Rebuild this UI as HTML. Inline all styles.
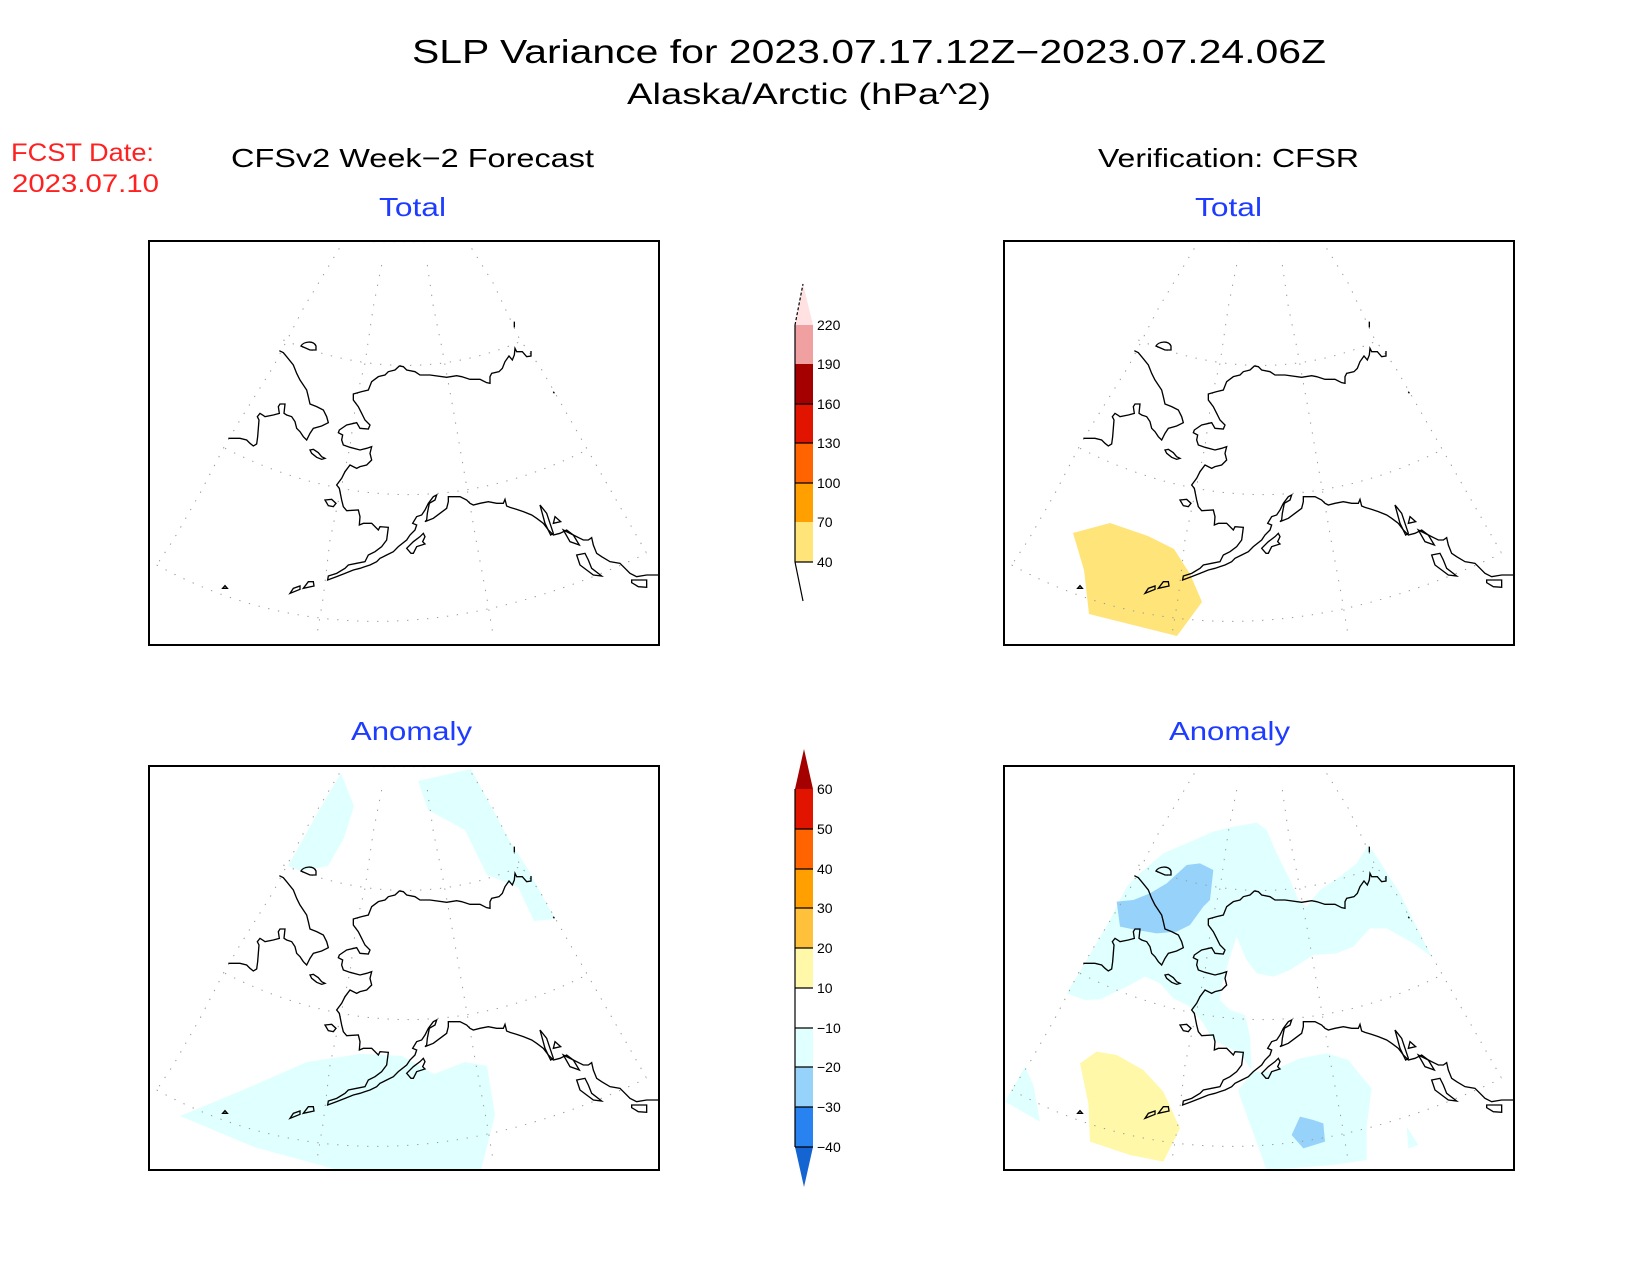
<!DOCTYPE html>
<html><head><meta charset="utf-8"><style>html,body{margin:0;padding:0;background:#fff}svg{display:block}</style></head><body>
<svg xmlns="http://www.w3.org/2000/svg" xmlns:xlink="http://www.w3.org/1999/xlink" width="1650" height="1275" viewBox="0 0 1650 1275" font-family="Liberation Sans, sans-serif" font-weight="300">
<defs>
<clipPath id="cp"><rect x="148" y="241" width="511" height="404"/></clipPath>
<g id="grat" fill="none" stroke="#999" stroke-width="3" stroke-dasharray="4,26">
 <path d="M50,975 Q700,1330 1520,940"/>
 <path d="M255,625 Q800,900 1340,630"/>
 <path d="M430,300 Q800,450 1140,305"/>
 <path d="M598,25 L490,205 400,380 300,540 250,625 180,760 100,900 50,975"/>
 <path d="M725,75 L700,200 675,370 650,470 630,620 600,760 570,900 550,1070 530,1190"/>
 <path d="M862,75 L880,200 905,320 940,510 975,710 1010,910 1040,1070 1060,1190"/>
 <path d="M995,25 L1060,130 1140,300 1200,380 1280,520 1360,660 1440,800 1520,940"/>
 <path d="M700,5 L870,5"/>
</g>
<g id="coast" fill="none" stroke="#000" stroke-width="4">
 <path d="M1173,333 L1173,348 1160,350 1147,335 1130,335 1125,325 1123,345 1117,360 1107,348 1095,365 1087,385 1077,395 1055,400 1050,410 1050,430 1040,428 1020,418 990,418 965,410 950,407 920,412 870,405 840,405 825,395 800,390 790,380 778,378 765,390 745,395 735,405 715,410 695,425 685,450 665,455 640,462 640,480 655,500 665,520 675,540 690,555 685,567 660,565 650,548 620,555 598,570 595,578 608,585 605,600 610,615 630,622 660,630 680,625 695,620 690,640 695,660 680,675 660,680 650,685 630,675 615,695 605,715 590,735 598,745 605,780 610,800 620,812 655,810 660,830 658,855 670,850 695,850 715,870 720,860 745,862 740,900 725,920 705,935 685,945 675,965 650,970 625,975 615,985 590,1000 565,1008 563,1020 590,1010 615,1000 640,990 660,985 675,980 690,975 710,965 720,955 740,945 760,935 775,920 800,900 810,885 825,870 830,855 818,850 830,830 845,825 855,810 865,790 880,770 890,765 885,780 868,790 862,820 860,840 855,845 880,835 900,820 920,805 925,785 925,770 945,770 960,770 980,780 990,790 1000,795 1020,790 1045,785 1070,790 1090,790 1095,778 1100,798 1110,802 1130,808 1150,815 1175,825 1190,835 1210,850 1225,870 1240,885 1260,880 1280,870 1300,885 1320,895 1330,900 1345,900 1355,893 1360,915 1370,940 1385,950 1410,965 1440,970 1455,985 1470,1000 1490,1010 1520,1005 1557,1005"/>
 <path d="M418,332 L430,338 440,350 460,375 470,400 480,420 490,435 500,450 505,470 510,492 530,500 550,510 560,530 565,548 545,558 520,565 510,580 500,600 490,590 480,575 470,565 465,545 455,530 440,525 432,520 435,492 420,492 415,500 418,520 400,525 375,530 368,525 360,520 352,530 357,540 355,565 353,590 350,612 340,618 330,610 320,600 300,595 265,595"/>
 <path d="M510,630 L520,628 535,638 545,650 555,655 545,658 530,652 515,640 Z"/>
 <path d="M483,318 C490,305 520,300 528,318 L528,330 510,330 Z"/>
 <path d="M555,780 L575,778 588,790 580,800 565,797 Z"/>
 <path d="M800,925 L820,905 840,890 850,880 855,890 848,905 855,912 830,920 820,940 813,940 Z"/>
 <path d="M450,1060 L460,1045 480,1038 480,1048 Z M490,1045 L505,1025 520,1025 522,1038 Z M248,1045 L255,1037 262,1045 Z"/>
 <path d="M1310,945 L1335,940 1345,960 1355,985 1385,1008 1360,1005 1340,990 1320,975 Z"/>
 <path d="M1475,1020 L1520,1020 1520,1042 1495,1040 1475,1028 Z"/>
 <path d="M1200,795 L1220,820 1240,880 1232,885 1215,850 Z M1245,830 L1262,845 1240,850 Z M1270,870 L1300,885 1318,915 1290,905 Z"/>
 <path d="M1123,245 L1123,262 M1240,455 L1243,460"/>
</g>
</defs>

<text x="412" y="63" font-size="33" textLength="914" lengthAdjust="spacingAndGlyphs">SLP Variance for 2023.07.17.12Z−2023.07.24.06Z</text>
<text x="627" y="104" font-size="30" textLength="364" lengthAdjust="spacingAndGlyphs">Alaska/Arctic (hPa^2)</text>
<text x="11" y="161" font-size="25" fill="#ff2020" textLength="143" lengthAdjust="spacingAndGlyphs">FCST Date:</text>
<text x="12" y="192" font-size="25" fill="#ff2020" textLength="147" lengthAdjust="spacingAndGlyphs">2023.07.10</text>
<text x="231" y="167" font-size="26" textLength="363" lengthAdjust="spacingAndGlyphs">CFSv2 Week−2 Forecast</text>
<text x="1098" y="167" font-size="26" textLength="261" lengthAdjust="spacingAndGlyphs">Verification: CFSR</text>
<g fill="#1e3cff" font-size="26">
<text x="379" y="216" textLength="67" lengthAdjust="spacingAndGlyphs">Total</text>
<text x="1195" y="216" textLength="67" lengthAdjust="spacingAndGlyphs">Total</text>
<text x="351" y="740" textLength="121" lengthAdjust="spacingAndGlyphs">Anomaly</text>
<text x="1169" y="740" textLength="121" lengthAdjust="spacingAndGlyphs">Anomaly</text>
</g>

<g transform="translate(140,240) scale(0.33333)"><use xlink:href="#grat"/><use xlink:href="#coast"/></g>
<rect x="149" y="241" width="510" height="404" fill="none" stroke="#000" stroke-width="2"/>

<g transform="translate(855,0)"><g clip-path="url(#cp)">
<polygon fill="#ffe47a" points="218,533 255,523 293,536 319,549 335,574 347,602 322,636 234,614 229,570"/>
</g></g>
<g transform="translate(995,240) scale(0.33333)"><use xlink:href="#grat"/><use xlink:href="#coast"/></g>
<rect x="1004" y="241" width="510" height="404" fill="none" stroke="#000" stroke-width="2"/>

<g transform="translate(0,525)"><g clip-path="url(#cp)">
<g fill="#e0ffff">
<polygon points="341,248 354,281 344,313 328,341 301,346 288,341 317,289"/>
<polygon points="418,256 471,244 508,313 529,346 555,394 534,396 518,362 487,350 465,305 428,285"/>
<polygon points="180,591 243,565 307,537 360,529 402,531 434,549 465,537 487,541 495,590 481,645 338,645 254,622"/>
</g></g></g>
<g transform="translate(140,765) scale(0.33333)"><use xlink:href="#grat"/><use xlink:href="#coast"/></g>
<rect x="149" y="766" width="510" height="404" fill="none" stroke="#000" stroke-width="2"/>

<clipPath id="cp2"><rect x="1004" y="766" width="510" height="404"/></clipPath>
<g clip-path="url(#cp2)"><g transform="translate(1000,760) scale(0.33333)">
<path fill="#e0ffff" d="M200,700 L260,600 330,480 380,380 420,340 490,280 560,250 640,215 700,200 770,188 800,210 830,280 870,360 895,420 920,440 960,390 1020,350 1070,310 1105,255 1130,290 1200,400 1295,590 1240,550 1160,505 1110,505 1060,560 1010,580 940,585 870,630 820,650 770,640 740,600 710,530 690,590 665,680 660,720 690,750 735,765 750,830 755,930 720,880 680,860 640,840 610,790 570,740 520,715 480,670 435,650 380,680 300,718 255,720 Z"/>
<path fill="#e0ffff" d="M715,990 L760,935 810,935 900,895 980,880 1045,900 1085,950 1115,985 1100,1100 1100,1200 1000,1215 800,1230 760,1120 720,1010 Z"/>
<path fill="#e0ffff" d="M15,1025 L75,920 100,975 120,1085 Z M1220,1100 L1255,1155 1225,1165 Z"/>
<path fill="#96d2fa" d="M350,425 L400,420 450,400 500,370 560,315 600,310 640,330 630,420 610,440 570,495 530,515 470,520 410,510 360,500 Z"/>
<path fill="#96d2fa" d="M875,1125 L900,1070 940,1080 970,1090 975,1145 910,1165 Z"/>
<path fill="#fff8a8" d="M240,910 L290,875 350,885 430,930 490,995 540,1105 490,1205 390,1185 270,1145 265,1030 Z"/>
</g></g>
<g transform="translate(995,765) scale(0.33333)"><use xlink:href="#grat"/><use xlink:href="#coast"/></g>
<rect x="1004" y="766" width="510" height="404" fill="none" stroke="#000" stroke-width="2"/>

<g stroke="#000" stroke-width="1.2">
<polygon points="795,325 803,284 813,325" fill="#ffe1e1" stroke="none"/>
<path d="M795,325 L803,284" fill="none" stroke-dasharray="3,2"/>
<rect x="795" y="325" width="18" height="39" fill="#f0a0a0" stroke="none"/>
<rect x="795" y="364" width="18" height="40" fill="#a50000" stroke="none"/>
<rect x="795" y="404" width="18" height="39" fill="#e11400" stroke="none"/>
<rect x="795" y="443" width="18" height="40" fill="#ff6400" stroke="none"/>
<rect x="795" y="483" width="18" height="39" fill="#ffa000" stroke="none"/>
<rect x="795" y="522" width="18" height="40" fill="#ffe47a" stroke="none"/>
<path d="M795,325 L795,562 L803,601" fill="none"/>
<path d="M795,404 H813 M795,443 H813 M795,483 H813 M795,562 H813" fill="none"/>
</g>
<g font-size="14">
<text x="817" y="330">220</text><text x="817" y="369">190</text><text x="817" y="409">160</text>
<text x="817" y="448">130</text><text x="817" y="488">100</text><text x="817" y="527">70</text><text x="817" y="567">40</text>
</g>

<g>
<polygon points="795,789 804,749 813,789" fill="#a50000"/>
<rect x="795" y="789" width="18" height="40" fill="#e11400"/>
<rect x="795" y="829" width="18" height="40" fill="#ff6400"/>
<rect x="795" y="869" width="18" height="39" fill="#ffa000"/>
<rect x="795" y="908" width="18" height="40" fill="#ffc03c"/>
<rect x="795" y="948" width="18" height="40" fill="#fff8a8"/>
<rect x="795" y="1028" width="18" height="39" fill="#e0ffff"/>
<rect x="795" y="1067" width="18" height="40" fill="#96d2fa"/>
<rect x="795" y="1107" width="18" height="40" fill="#2882f0"/>
<polygon points="795,1147 804,1187 813,1147" fill="#1464d2"/>
<g stroke="#000" stroke-width="1.2" fill="none">
<path d="M795,789 V1147"/>
<path d="M795,829 H813 M795,869 H813 M795,908 H813 M795,948 H813 M795,988 H813 M795,1028 H813 M795,1067 H813 M795,1107 H813 M795,1147 H813"/>
</g>
</g>
<g font-size="14">
<text x="817" y="794">60</text><text x="817" y="834">50</text><text x="817" y="874">40</text><text x="817" y="913">30</text>
<text x="817" y="953">20</text><text x="817" y="993">10</text><text x="817" y="1033">−10</text><text x="817" y="1072">−20</text>
<text x="817" y="1112">−30</text><text x="817" y="1152">−40</text>
</g>
</svg>
</body></html>
